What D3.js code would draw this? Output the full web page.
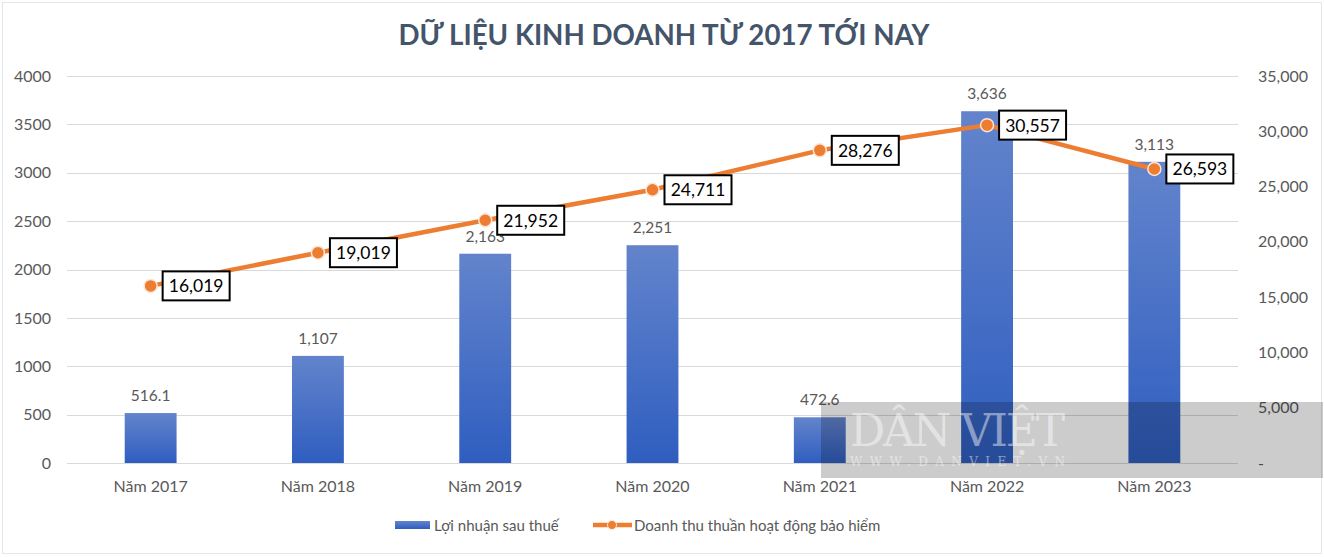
<!DOCTYPE html>
<html><head><meta charset="utf-8">
<script src="https://cdn.jsdelivr.net/npm/d3@7"></script>
<style>body{margin:0;background:#fff;} svg{display:block;font-family:Lato, "Open Sans", sans-serif;}</style>
</head><body><svg id="c" width="1324" height="557"></svg>
<script>
const categories = ["Năm 2017","Năm 2018","Năm 2019","Năm 2020","Năm 2021","Năm 2022","Năm 2023"];
const profit = [516.1, 1107, 2163, 2251, 472.6, 3636, 3113];
const profitLabels = ["516.1","1,107","2,163","2,251","472.6","3,636","3,113"];
const revenue = [16019, 19019, 21952, 24711, 28276, 30557, 26593];
const leftTicks = [0,500,1000,1500,2000,2500,3000,3500,4000];
const rightTicks = [0,5000,10000,15000,20000,25000,30000,35000];
const title = "DỮ LIỆU KINH DOANH TỪ 2017 TỚI NAY";
const legendNames = ["Lợi nhuận sau thuế","Doanh thu thuần hoạt động bảo hiểm"];

const svg = d3.select("#c");
const L = 67, R = 1238, T = 76, B = 463;
const x = d3.scaleBand().domain(categories).range([L, R]).paddingInner(0.69).paddingOuter(0.345);
const yL = d3.scaleLinear().domain([0,4000]).range([B,T]);
const yR = d3.scaleLinear().domain([0,35000]).range([B,T]);
const cx = d => x(d) + x.bandwidth()/2;

svg.append("rect").attr("x",2.5).attr("y",2.5).attr("width",1319).attr("height",551).attr("fill","#fff").attr("stroke","#e3e6ea");

const defs = svg.append("defs");
const g = defs.append("linearGradient").attr("id","bg").attr("x1",0).attr("y1",0).attr("x2",0).attr("y2",1);
g.append("stop").attr("offset","0%").attr("stop-color","#6384cc");
g.append("stop").attr("offset","100%").attr("stop-color","#2f5ec0");

svg.append("text").attr("x",664).attr("y",45).attr("text-anchor","middle").attr("font-weight","bold")
  .attr("font-size",27.7).attr("fill","#44546a").text(title);

// gridlines
svg.append("g").selectAll("line").data(leftTicks).join("line")
  .attr("x1",L).attr("x2",R).attr("y1",d=>Math.round(yL(d))+0.5).attr("y2",d=>Math.round(yL(d))+0.5)
  .attr("stroke","#d9d9d9").attr("stroke-width",1);

// left axis
const la = svg.append("g").attr("transform",`translate(${L-10},0)`)
  .call(d3.axisLeft(yL).tickValues(leftTicks).tickSize(0).tickPadding(6).tickFormat(d3.format("d")));
la.select(".domain").remove();
la.selectAll("text").attr("font-size",16).attr("fill","#595959").attr("font-family","Lato");

// right axis
const ra = svg.append("g").attr("transform",`translate(${R+14},0)`)
  .call(d3.axisRight(yR).tickValues(rightTicks).tickSize(0).tickPadding(6).tickFormat(d=>d===0?"-":d3.format(",")(d)));
ra.select(".domain").remove();
ra.selectAll("text").attr("font-size",16).attr("fill","#595959").attr("font-family","Lato");

// x axis
const xa = svg.append("g").attr("transform",`translate(0,${B+12})`)
  .call(d3.axisBottom(x).tickSize(0).tickPadding(6));
xa.select(".domain").remove();
xa.selectAll("text").attr("font-size",16).attr("fill","#595959").attr("font-family","Lato");

// bars
svg.append("g").selectAll("rect").data(categories).join("rect")
  .attr("x",d=>x(d)).attr("width",x.bandwidth())
  .attr("y",(d,i)=>yL(profit[i])).attr("height",(d,i)=>B-yL(profit[i]))
  .attr("fill","url(#bg)");
svg.append("g").selectAll("text").data(categories).join("text")
  .attr("x",d=>cx(d)).attr("y",(d,i)=>yL(profit[i])-12).attr("text-anchor","middle")
  .attr("font-size",15.5).attr("fill","#595959").text((d,i)=>profitLabels[i]);

// line
const line = d3.line().x((d,i)=>cx(categories[i])).y(d=>yR(d));
svg.append("path").datum(revenue).attr("d",line).attr("fill","none").attr("stroke","#ed7d31").attr("stroke-width",4.5).attr("stroke-linejoin","round");
svg.append("g").selectAll("circle").data(revenue).join("circle")
  .attr("cx",(d,i)=>cx(categories[i])).attr("cy",d=>yR(d)).attr("r",6.5)
  .attr("fill","#ed7d31").attr("stroke","#fbe5d6").attr("stroke-width",1.5);

const lbl = svg.append("g").selectAll("g").data(revenue).join("g")
  .attr("transform",(d,i)=>`translate(${cx(categories[i])+12},${yR(d)})`);
lbl.append("rect").attr("x",0).attr("y",-14.5).attr("width",67).attr("height",29).attr("fill","#fff").attr("stroke","#000").attr("stroke-width",2);
lbl.append("text").attr("x",33.5).attr("y",6.5).attr("text-anchor","middle").attr("font-size",17.5).attr("fill","#000").text(d=>d3.format(",")(d));

// legend
const lg = svg.append("g");
lg.append("rect").attr("x",395).attr("y",521).attr("width",35).attr("height",8).attr("fill","url(#bg)");
lg.append("text").attr("x",434).attr("y",531).attr("font-size",15).attr("fill","#595959").text(legendNames[0]);
lg.append("line").attr("x1",593).attr("x2",632).attr("y1",525).attr("y2",525).attr("stroke","#ed7d31").attr("stroke-width",4.5);
lg.append("circle").attr("cx",612).attr("cy",525).attr("r",4.5).attr("fill","#ed7d31").attr("stroke","#fbe5d6").attr("stroke-width",1);
lg.append("text").attr("x",634).attr("y",531).attr("font-size",15).attr("fill","#595959").text(legendNames[1]);

// watermark overlay
svg.append("rect").attr("x",821).attr("y",402).attr("width",502).attr("height",76).attr("fill","#000").attr("opacity",0.2);
svg.append("text").attr("x",850).attr("y",446).attr("font-family","DejaVu Serif, serif").attr("font-size",44)
  .attr("fill","#fff").attr("opacity",0.45).attr("textLength",215).text("DÂN VIỆT");
svg.append("text").attr("x",850).attr("y",466).attr("font-family","DejaVu Serif, serif").attr("font-size",12)
  .attr("fill","#fff").attr("opacity",0.45).attr("textLength",215).text("WWW.DANVIET.VN");
</script></body></html>
